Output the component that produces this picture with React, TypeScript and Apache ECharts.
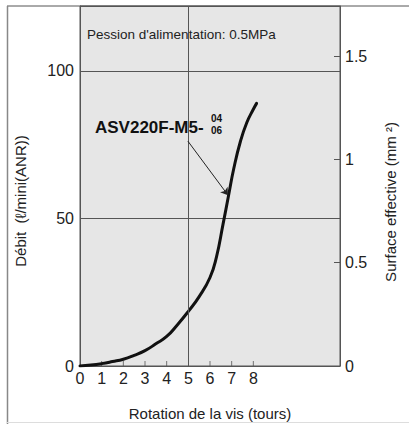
import React, { useEffect, useRef } from "react";
import * as echarts from "echarts";

// Curve: screw rotation (turns) vs flow rate (ℓ/min ANR)
const rotation = [0, 0.5, 1, 1.5, 2, 2.5, 3, 3.5, 4, 4.5, 5, 5.5, 6, 6.3, 6.6, 6.85, 7.1, 7.4, 7.7, 8.0, 8.15];
const debit = [0, 0.3, 0.8, 1.5, 2.3, 3.6, 5.2, 7.5, 10, 14, 18.5, 23.5, 30, 37, 48, 57.5, 67, 76, 82.5, 87, 89];

// x-axis tick marks shown (1..8)
const xTickValues = [1, 2, 3, 4, 6, 7, 8];
const xLabelMax = 8;

// axes ranges
const xMin = 0;
const xMax = 12;
const leftMax = 122;
const leftInterval = 50;
const rightMax = 1.743;
const rightInterval = 0.5;

// vertical grid line
const xGridLine = 5;

// arrow annotation (data coordinates)
const arrowStart = [4.98, 76.2];
const arrowEnd = [6.83, 57.9];

const FONT = "'Liberation Sans', Arial, sans-serif";
const TXT = "#222";
const AX = "#555";

export default function App() {
  const ref = useRef<HTMLDivElement>(null);

  useEffect(() => {
    document.body.style.margin = "0";
    if (!ref.current) return;
    const chart = echarts.init(ref.current, undefined, { renderer: "svg" });

    const curve = rotation.map((r, i) => [r, debit[i]]);
    const ticks = xTickValues.map((v) => [v, 0]);

    chart.setOption({
      animation: false,
      backgroundColor: "#fff",
      textStyle: { fontFamily: FONT },
      grid: {
        left: 80,
        right: 69,
        top: 6,
        bottom: 58,
        show: true,
        backgroundColor: "#e6e6e6",
        borderColor: AX,
        borderWidth: 1,
      },
      xAxis: {
        type: "value",
        min: xMin,
        max: xMax,
        interval: 1,
        axisLine: { show: true, lineStyle: { color: AX, width: 1 } },
        axisTick: { show: false },
        splitLine: { show: false },
        axisLabel: {
          color: TXT,
          fontSize: 16,
          fontFamily: FONT,
          margin: 4,
          formatter: (v: number) => (v <= xLabelMax ? String(v) : ""),
        },
      },
      yAxis: [
        {
          type: "value",
          min: 0,
          max: leftMax,
          interval: leftInterval,
          position: "left",
          axisLine: { show: true, lineStyle: { color: AX, width: 1 } },
          axisTick: { show: false },
          splitLine: { show: true, lineStyle: { color: AX, width: 1 } },
          axisLabel: {
            color: TXT,
            fontSize: 16,
            fontFamily: FONT,
            margin: 6,
            showMaxLabel: false,
            formatter: (v: number) => (v <= 100 ? String(v) : ""),
          },
        },
        {
          type: "value",
          min: 0,
          max: rightMax,
          interval: rightInterval,
          position: "right",
          axisLine: { show: true, lineStyle: { color: AX, width: 1 } },
          axisTick: { show: true, inside: true, length: 6, lineStyle: { color: AX } },
          splitLine: { show: false },
          axisLabel: {
            color: TXT,
            fontSize: 16,
            fontFamily: FONT,
            margin: 5,
            showMaxLabel: false,
            formatter: (v: number) => (v <= 1.5 ? String(v) : ""),
          },
        },
      ],
      series: [
        {
          type: "scatter",
          data: ticks,
          symbol: "rect",
          symbolSize: [1, 5],
          symbolOffset: [0, "-50%"],
          itemStyle: { color: AX },
          clip: false,
          silent: true,
          markLine: {
            silent: true,
            symbol: "none",
            label: { show: false },
            lineStyle: { color: AX, width: 1, type: "solid" },
            data: [{ xAxis: xGridLine }],
          },
        },
        {
          type: "line",
          data: curve,
          smooth: 0.5,
          showSymbol: false,
          lineStyle: { color: "#111", width: 3, cap: "round" },
          itemStyle: { color: "#111" },
          silent: true,
          markLine: {
            silent: true,
            symbol: ["none", "arrow"],
            symbolSize: 7,
            label: { show: false },
            lineStyle: { color: "#222", width: 1, type: "solid" },
            data: [[{ coord: arrowStart }, { coord: arrowEnd }]],
          },
        },
      ],
      graphic: [
        // outer frame
        { type: "line", shape: { x1: 7, y1: 6, x2: 409, y2: 6 }, style: { stroke: "#555", lineWidth: 1 } },
        { type: "line", shape: { x1: 7.5, y1: 6, x2: 7.5, y2: 424 }, style: { stroke: "#888", lineWidth: 1.5 } },
        { type: "line", shape: { x1: 7, y1: 422.5, x2: 409, y2: 422.5 }, style: { stroke: "#ddd", lineWidth: 1 } },
        {
          type: "text",
          x: 87,
          y: 34,
          style: {
            text: "Pession d'alimentation: 0.5MPa",
            fill: TXT,
            font: `13.5px ${FONT}`,
            verticalAlign: "middle",
          },
        },
        {
          type: "text",
          x: 95,
          y: 127,
          style: {
            text: "ASV220F-M5-",
            fill: "#111",
            font: `bold 17px ${FONT}`,
            verticalAlign: "middle",
          },
        },
        {
          type: "text",
          x: 211,
          y: 118.5,
          style: { text: "04", fill: "#111", font: `bold 10px ${FONT}`, verticalAlign: "middle" },
        },
        {
          type: "text",
          x: 211,
          y: 130.5,
          style: { text: "06", fill: "#111", font: `bold 10px ${FONT}`, verticalAlign: "middle" },
        },
        {
          type: "text",
          x: 20,
          y: 201,
          rotation: Math.PI / 2,
          style: {
            text: "Débit  (ℓ/mini(ANR))",
            fill: TXT,
            font: `15px ${FONT}`,
            align: "center",
            verticalAlign: "middle",
          },
        },
        {
          type: "text",
          x: 390,
          y: 202,
          rotation: Math.PI / 2,
          style: {
            text: "Surface effective (mm ²)",
            fill: TXT,
            font: `15px ${FONT}`,
            align: "center",
            verticalAlign: "middle",
          },
        },
        {
          type: "text",
          x: 210,
          y: 413,
          style: {
            text: "Rotation de la vis (tours)",
            fill: TXT,
            font: `15px ${FONT}`,
            align: "center",
            verticalAlign: "middle",
          },
        },
      ],
    });

    return () => chart.dispose();
  }, []);

  return <div ref={ref} style={{ width: 409, height: 424 }} />;
}
